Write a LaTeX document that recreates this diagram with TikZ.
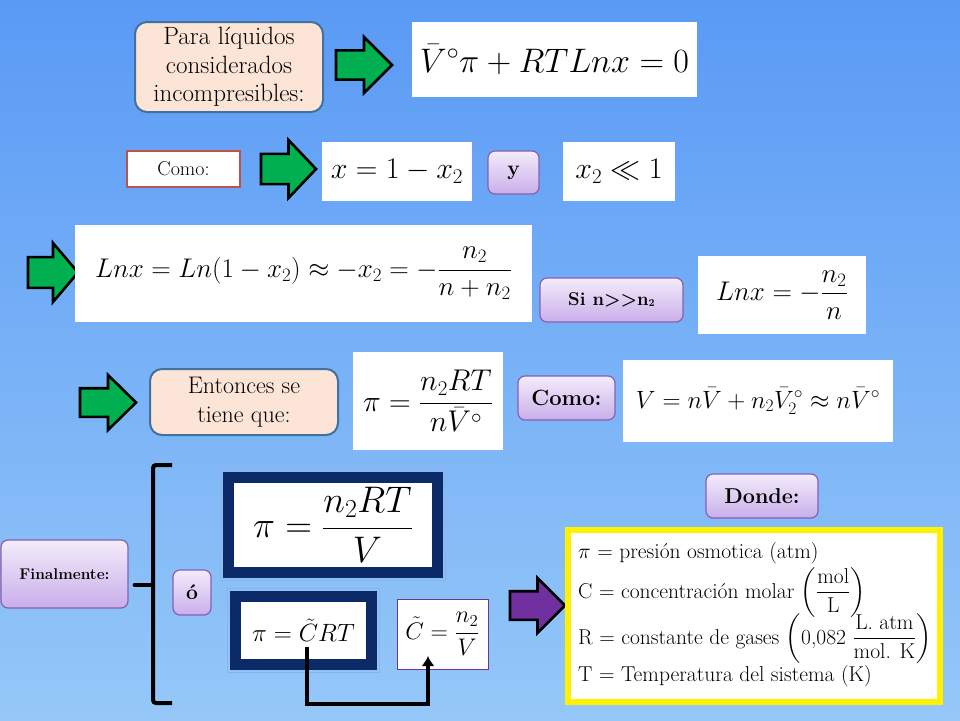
\RequirePackage{fix-cm}
\documentclass[tikz,border=0pt]{standalone}
\usepackage{amsmath}
\usetikzlibrary{arrows.meta}
\definecolor{bgtop}{HTML}{5A9AF5}
\definecolor{bgbot}{HTML}{95C8F8}
\definecolor{peachc}{HTML}{FCE4D6}
\definecolor{peachb}{HTML}{41719C}
\definecolor{purtop}{HTML}{F3ECFB}
\definecolor{purbot}{HTML}{C9AEEA}
\definecolor{purb}{HTML}{8560B2}
\definecolor{navyc}{HTML}{0C2A68}
\definecolor{lightline}{HTML}{8DB4E8}
\definecolor{greenc}{HTML}{00B050}
\definecolor{violetc}{HTML}{7030A0}
\definecolor{redb}{HTML}{C0504D}
\newcommand\fsz[1]{\fontsize{#1}{#1}\selectfont}
\newcommand\blockarr[5]{%
  \draw[line width=2.6pt, fill=#5, line join=miter]
   (#1,#2+0.24*#4) -- (#1+0.5*#3,#2+0.24*#4) -- (#1+0.5*#3,#2) -- (#1+#3,#2+0.5*#4)
   -- (#1+0.5*#3,#2+#4) -- (#1+0.5*#3,#2+0.76*#4) -- (#1,#2+0.76*#4) -- cycle;}
\begin{document}
\begin{tikzpicture}[x=1pt,y=-1pt,
  wbox/.style={fill=white, inner sep=0pt, align=center},
  peach/.style={fill=peachc, draw=peachb, line width=2pt, rounded corners=12pt,
    align=center, inner sep=0pt, font=\fontsize{25}{28.5}\selectfont},
  purp/.style={top color=purtop, bottom color=purbot, draw=purb, line width=1.2pt,
    rounded corners=7pt, inner sep=0pt, font=\bfseries},
  navybox/.style={fill=white, draw=navyc, line width=11pt, inner sep=0pt},
  lineitem/.style={anchor=base west, inner sep=0pt, font=\fsz{21.5}}
]
\useasboundingbox (0,0) rectangle (960,720);
\shade[top color=bgtop, bottom color=bgbot] (0,0) rectangle (960,720);

% row 1
\node[peach, minimum width=188, minimum height=90] (para) at (229,67)
  {Para líquidos\\considerados\\incompresibles:};
\blockarr{336}{37}{56}{56}{greenc}
\node[wbox, minimum width=285, minimum height=75] (eq1) at (554.5,59.5)
  {\fsz{34}$\bar V^{\circ}\pi+RTLnx=0$};

% row 2
\node[fill=white, draw=redb, line width=2.5pt, minimum width=113, minimum height=36,
  inner sep=0pt, font=\fsz{20}] (como1) at (183.5,169) {Como:};
\blockarr{261}{140}{55}{58}{greenc}
\node[wbox, minimum width=150, minimum height=59] (eq2) at (397,171.5)
  {\fsz{30}$x=1-x_2$};
\node[purp, minimum width=51, minimum height=43, font=\bfseries\fsz{21}] (ybox) at (513.5,172.5) {y};
\node[wbox, minimum width=112, minimum height=59] (eq3) at (619,171.5)
  {\fsz{30}$x_2\ll 1$};

% row 3
\blockarr{28}{243}{50}{59}{greenc}
\node[wbox, minimum width=457, minimum height=97] (eq4) at (303.5,273.5)
  {\fsz{27}$\displaystyle Lnx=Ln(1-x_2)\approx -x_2=-\frac{n_2}{n+n_2}$};
\node[purp, minimum width=143, minimum height=44, font=\bfseries\fsz{18.5}] (sin) at (611.5,300)
  {Si n>\kern0pt>\kern0pt n\raisebox{-1pt}{\fsz{10.5}2}};
\node[wbox, minimum width=168, minimum height=78] (eq5) at (782,295)
  {\fsz{27}$\displaystyle Lnx=-\frac{n_2}{n}$};

% row 4
\blockarr{80}{375}{56}{55}{greenc}
\node[peach, minimum width=188, minimum height=66, font=\fontsize{24}{29}\selectfont] (entonces) at (244,402)
  {Entonces se\\tiene que:};
\node[wbox, minimum width=150, minimum height=98] (eq6) at (428,401)
  {\fsz{30}$\displaystyle \pi=\frac{n_2RT}{n\bar V^{\circ}}$};
\node[purp, minimum width=97, minimum height=44, font=\bfseries\fsz{22}] (como2) at (566.5,398) {Como:};
\node[wbox, minimum width=270, minimum height=82] (eq7) at (758,401)
  {\fsz{25}$V=n\bar V+n_2\bar V_2^{\circ}\approx n\bar V^{\circ}$};

% row 5
\node[purp, minimum width=127, minimum height=68, font=\bfseries\fsz{15.5}] (final) at (64.5,574) {Finalmente:};
\draw[line width=4pt, rounded corners=3pt] (172,465) -- (153,465) -- (153,703) -- (172,703);
\coordinate (bracetip) at (153,585);
\draw[line width=4pt, line cap=round] (final.east) ++(6,11) coordinate (bracein) -- (bracetip);
\node[purp, minimum width=38, minimum height=45, font=\bfseries\fsz{21}] (obox) at (192,592.5) {ó};

\node[navybox, minimum width=209, minimum height=95] (big1) at (333,525)
  {\fsz{37}$\displaystyle \pi=\frac{n_2RT}{V}$};
\draw[lightline, line width=1.6pt] ([shift={(-2.5,-2.5)}]big1.north west) rectangle ([shift={(2.5,2.5)}]big1.south east);
\node[navybox, minimum width=136, minimum height=68] (big2) at (303.5,630.5)
  {\fsz{25}$\pi=\tilde CRT$};
\draw[lightline, line width=1.6pt] ([shift={(-2.5,-2.5)}]big2.north west) rectangle ([shift={(2.5,2.5)}]big2.south east);
\node[fill=white, draw=violetc, line width=1pt, minimum width=91, minimum height=70, inner sep=0pt] (ctil) at (442.5,634)
  {\fsz{24}$\displaystyle \tilde C=\frac{n_2}{V}$};

\coordinate (cfrom) at (307,647);
\coordinate (cto) at (428,656);
\draw[line width=3.5pt, -{Latex[length=10pt,width=13pt]}] (cfrom) -- ++(0,57) -| (cto);

\blockarr{510}{578}{55}{55}{violetc}
\node[purp, minimum width=112, minimum height=44, font=\bfseries\fsz{21.5}] (donde) at (762,496) {Donde:};
\node[fill=white, draw=yellow, line width=6pt, minimum width=372, minimum height=172, inner sep=0pt] (defs) at (754,616) {};
\node[lineitem] (l1) at (578,558) {$\pi$ $=$ presión osmotica (atm)};
\node[lineitem] (l2) at (578,598) {C $=$ concentración molar $\left(\dfrac{\text{mol}}{\text{L}}\right)$};
\node[lineitem] (l3) at (578,644) {R $=$ constante de gases $\left(\text{0,082}\ \dfrac{\text{L. atm}}{\text{mol. K}}\right)$};
\node[lineitem] (l4) at (578,681) {T $=$ Temperatura del sistema (K)};
\end{tikzpicture}
\end{document}
